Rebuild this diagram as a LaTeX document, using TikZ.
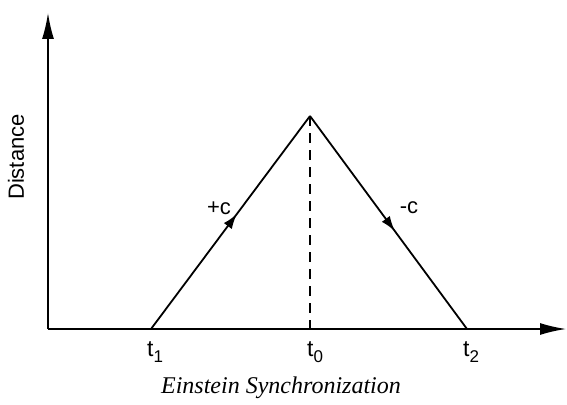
\documentclass[tikz,border=0pt]{standalone}
\usepackage{fontspec}
\setmainfont{Liberation Sans}
\newfontfamily\capfont{Liberation Serif}
\usetikzlibrary{arrows.meta,decorations.markings}
\newcommand{\tsub}[1]{t\raisebox{-0.3em}{\fontsize{17}{17}\selectfont #1}}
\tikzset{
  axis/.style={line width=1.6pt,-{Latex[length=26pt,width=12pt]}},
  ray/.style={line width=1.8pt,postaction={decorate},
    decoration={markings,mark=at position 0.54 with {\arrow{Latex[length=15pt,width=10pt]}}}},
  dashline/.style={line width=1.5pt,dash pattern=on 10pt off 7pt},
  lbl/.style={font=\fontsize{22}{24}\selectfont,inner sep=0pt},
  tlbl/.style={font=\fontsize{23}{25}\selectfont,inner sep=0pt,anchor=north west},
}
\begin{document}
\begin{tikzpicture}[x=1pt,y=-1pt]
\useasboundingbox (0,0) rectangle (567,404);
\coordinate (O) at (48,329);
\coordinate (ytip) at (48,13);
\coordinate (xtip) at (566,329);
\coordinate (A) at (151,329);
\coordinate (P) at (310,116);
\coordinate (B) at (467,329);
\coordinate (F) at (310,329);
\draw[axis] (O) -- (ytip);
\draw[axis] (O) -- (xtip);
\draw[ray] (A) -- (P);
\draw[ray] (P) -- (B);
\draw[dashline] (P) -- (F);
\node[lbl,rotate=90] (dist) at (16,157) {Distance};
\node[lbl] (pc) at (219,208) {+c};
\node[lbl] (mc) at (409,208) {-c};
\node[tlbl] (t1) at (147,341) {\tsub{1}};
\node[tlbl] (t0) at (307,341) {\tsub{0}};
\node[tlbl] (t2) at (463,341) {\tsub{2}};
\node[inner sep=0pt,font=\capfont\itshape\fontsize{24}{26}\selectfont] (cap) at (281,388) {Einstein Synchronization};
\end{tikzpicture}
\end{document}
